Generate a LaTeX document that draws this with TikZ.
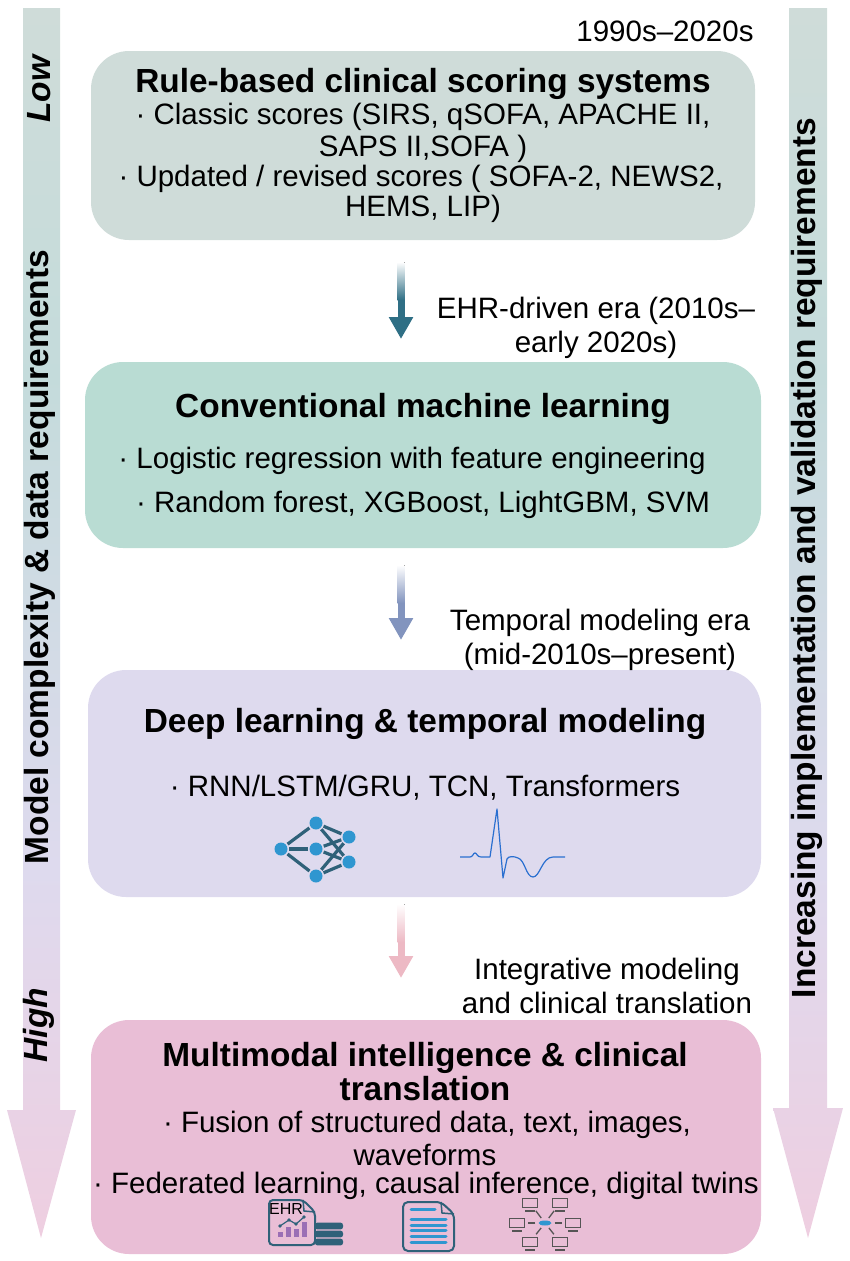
\documentclass[tikz,border=0pt]{standalone}
\usepackage{fontspec}
\setmainfont{Liberation Sans}
\usetikzlibrary{arrows.meta}
\usetikzlibrary{calc}
\usetikzlibrary{shapes.geometric}
\definecolor{boxA}{HTML}{CFDCD9}
\definecolor{boxB}{HTML}{B9DCD3}
\definecolor{boxC}{HTML}{DEDAEE}
\definecolor{boxD}{HTML}{E9BED6}
\definecolor{tealdark}{HTML}{2F6179}
\definecolor{iconblue}{HTML}{2F96D0}
\definecolor{ecgblue}{HTML}{2A6FD0}
\definecolor{barpurple}{HTML}{9B6FB5}
\definecolor{screengrey}{HTML}{555555}
\definecolor{arrA}{HTML}{2F6F85}
\definecolor{arrB}{HTML}{8294BE}
\definecolor{arrC}{HTML}{EDB9C4}
\pgfdeclareverticalshading{sideshade}{100bp}{color(0bp)=(boxD!75!white);color(25bp)=(boxD!75!white);color(40bp)=(boxC);color(60bp)=(boxB!70!boxC);color(75bp)=(boxA);color(100bp)=(boxA)}
\tikzset{
	box/.style={rounded corners=38pt},
	title/.style={font=\fontsize{33.4}{34}\selectfont\bfseries,align=center,inner sep=0pt},
	body/.style={font=\fontsize{29.5}{34}\selectfont,inner sep=0pt,align=center},
	sidev/.style={font=\fontsize{33.5}{36}\selectfont\bfseries,inner sep=0pt,rotate=90},
	net/.style={circle,fill=iconblue,minimum size=13pt,inner sep=0pt},
	netline/.style={draw=tealdark,line width=3.2pt,shorten >=1.5pt,shorten <=1.5pt},
	screen/.style={draw=screengrey,line width=1.8pt,minimum width=15pt,minimum height=9pt,inner sep=0pt},
	link/.style={draw=screengrey,line width=1.3pt},
	docline/.style={draw=iconblue,line width=3pt,line cap=round},
}
\begin{document}
\begin{tikzpicture}[x=1pt,y=-1pt]
	\useasboundingbox (0,0) rectangle (850,1261);
	% side arrows
	\path[shading=sideshade] (23,8) -- (60,8) -- (60,1110) -- (76,1110) -- (41,1238) -- (7,1110) -- (23,1110) -- cycle;
	\path[shading=sideshade] (789,8) -- (827,8) -- (827,1108) -- (843,1108) -- (808,1238) -- (773,1108) -- (789,1108) -- cycle;
	\node[sidev,font=\fontsize{33.5}{36}\selectfont\bfseries\itshape] (low) at (39,89) {Low};
	\node[sidev,font=\fontsize{33.5}{36}\selectfont\bfseries\itshape] (high) at (39,1025) {High};
	\node[sidev] (complexity) at (40,557) {Model complexity \& data requirements};
	\node[sidev] (validation) at (807,558) {Increasing implementation and validation requirements};
	% boxes
	\fill[box,boxA] (91,51) rectangle (755,240);
	\fill[box,boxB] (85,362) rectangle (761,548);
	\fill[box,boxC] (88,670) rectangle (761,897);
	\fill[box,boxD] (91,1020) rectangle (761,1254);
	% box 1
	\node[body] (date) at (665,31) {1990s–2020s};
	\node[title] (rule) at (423,84) {Rule-based clinical scoring systems};
	\node[body] (classic) at (423,117) {· Classic scores (SIRS, qSOFA, APACHE II,};
	\node[body] (saps) at (423,149) {SAPS II,SOFA )};
	\node[body] (revised) at (421,179) {· Updated / revised scores ( SOFA-2, NEWS2,};
	\node[body] (hems) at (423,209) {HEMS, LIP)};
	% box 2
	\node[title] (conv) at (423,409) {Conventional machine learning};
	\node[body] (logistic) at (412,461) {· Logistic regression with feature engineering};
	\node[body] (forest) at (423,505) {· Random forest, XGBoost, LightGBM, SVM};
	% box 3
	\node[title] (deep) at (425,724) {Deep learning \& temporal modeling};
	\node[body] (rnn) at (425,788) {· RNN/LSTM/GRU, TCN, Transformers};
	% box 4
	\node[title] (multi) at (425,1072) {Multimodal intelligence \& clinical\\translation};
	\node[body] (fusion) at (427,1125) {· Fusion of structured data, text, images,};
	\node[body] (wave) at (425,1155) {waveforms};
	\node[body] (fed) at (426,1186) {· Federated learning, causal inference, digital twins};
	% era labels
	\node[body] (eraA) at (596,328) {EHR-driven era (2010s–\\early 2020s)};
	\node[body] (eraB) at (600,640) {Temporal modeling era\\(mid-2010s–present)};
	\node[body] (eraC) at (607,986) {Integrative modeling\\and clinical translation};
	% era arrows
	\foreach \name/\col/\ya/\yb/\yc in {a/arrA/262/300/339,b/arrB/565/603/640,c/arrC/904/942/978}{
		\coordinate (\name1) at (401,\ya);
		\coordinate (\name2) at (401,\yb);
		\coordinate (\name3) at (401,\yc);
		\fill[top color=white,bottom color=\col] ($(\name1)+(-3.5,0)$) rectangle ($(\name2)+(3.5,0)$);
		\draw[\col,line width=7pt,-{Triangle[width=23pt,length=22pt]}] (\name2) -- (\name3);
	}
	% neural net icon
	\node[net] (n1) at (281,849) {};
	\node[net] (n2) at (316,823) {};
	\node[net] (n3) at (316,849) {};
	\node[net] (n4) at (316,876) {};
	\node[net] (n5) at (349,837) {};
	\node[net] (n6) at (349,862) {};
	\foreach \a/\b in {n1/n2,n1/n3,n1/n4,n2/n5,n2/n6,n3/n5,n3/n6,n4/n5,n4/n6}
		\path[netline] (\a) -- (\b);
	% ecg icon
	\draw[ecgblue,line width=1.2pt,line join=round] (460,857) -- (470,857) .. controls (473,857) and (473,853) .. (475,853) .. controls (477,853) and (477,857) .. (481,857) -- (490,857) -- (497,809) -- (503,878) -- (507,859) .. controls (508,856) and (514,856) .. (518,858) .. controls (525,860) and (526,877) .. (533,877) .. controls (540,877) and (542,857) .. (553,857) -- (565,857);
	% EHR icon
	\draw[tealdark,line width=2pt,rounded corners=4pt] (269,1200) -- (303,1200) -- (315,1212) -- (315,1245) -- (269,1245) -- cycle;
	\draw[tealdark,line width=1.5pt] (303,1200) -- (304,1211) -- (315,1212);
	\foreach \x/\y in {278/1232,286/1227,294/1229,302/1222}
		\fill[barpurple] (\x,\y) rectangle ++(5,1237-\y);
	\draw[tealdark,line width=1.2pt] (280,1226) -- (289,1220) -- (296,1224) -- (304,1217);
	\foreach \x/\y in {280/1226,289/1220,296/1224,304/1217}
		\fill[tealdark] (\x,\y) circle (1.8);
	\foreach \y in {1226,1234,1242}
		\fill[tealdark,rounded corners=2.5pt] (315,\y-3.4) rectangle (343,\y+3.4);
	\node[font=\fontsize{16}{18}\selectfont,inner sep=0pt] (ehr) at (286,1209) {EHR};
	% document icon
	\draw[tealdark,line width=2pt,rounded corners=5pt] (403,1202) -- (441,1202) -- (454,1214) -- (454,1251) -- (403,1251) -- cycle;
	\draw[tealdark,line width=1.5pt] (441,1202) -- (442,1213) -- (454,1214);
	\draw[docline] (411,1209) -- (435,1209);
	\foreach \y in {1219,1225,1230,1236,1242}
		\draw[docline] (411,\y) -- (446,\y);
	% network icon
	\node[ellipse,fill=iconblue,minimum width=13pt,minimum height=5pt,inner sep=0pt] (hub) at (545,1223) {};
	\foreach \name/\x/\y in {s1/530/1203,s2/560/1203,s3/517/1223,s4/573/1223,s5/530/1242,s6/560/1242}{
		\node[screen] (\name) at (\x,\y) {};
		\draw[screengrey,line width=1.6pt] (\x-5,\y+8) -- (\x+5,\y+8);
		\draw[link,shorten <=3pt,shorten >=3pt] (hub) -- (\name);
	}
\end{tikzpicture}
\end{document}
